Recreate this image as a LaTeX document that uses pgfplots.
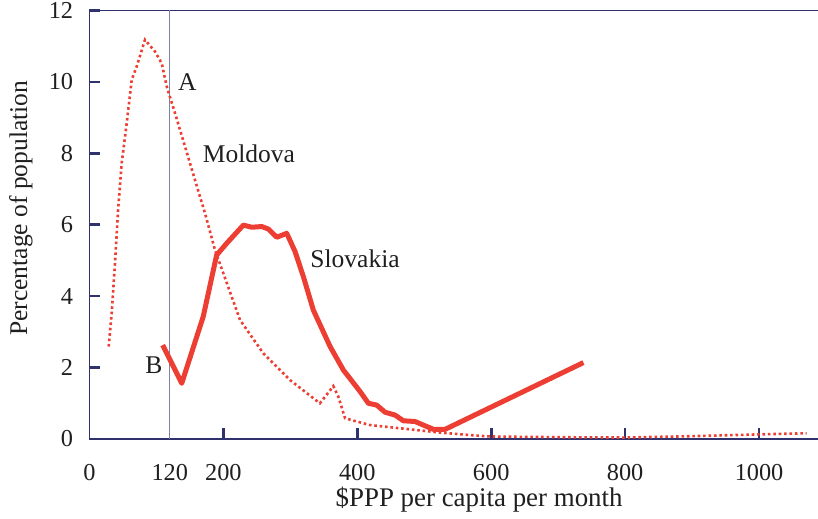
\documentclass[border=0pt]{standalone}
\usepackage{fontspec}
\setmainfont{Liberation Serif}
\usepackage{pgfplots}
\pgfplotsset{compat=1.18}
\definecolor{redline}{RGB}{236,62,50}
\definecolor{navy}{RGB}{48,50,110}
\definecolor{vline}{RGB}{125,130,172}
\begin{document}
\fontsize{12.8}{15}\selectfont
\begin{tikzpicture}
\useasboundingbox (0,0) rectangle (409bp,259.5bp);
\begin{axis}[
 at={(44.7bp,40bp)}, anchor=south west,
 width=364.3bp, height=214.25bp, scale only axis,
 xmin=0, xmax=1088, ymin=0, ymax=12,
 axis lines*=left,
 axis line style={navy, line width=0.9bp},
 tick align=inside,
 major tick length=5.5bp,
 tick style={navy, line width=1.3bp},
 xtick={200,400,600,800,1000},
 extra x ticks={0,120},
 extra x tick style={major tick length=0pt},
 ytick={0,2,4,6,8,10,12},
 /pgf/number format/assume math mode=true,
 /pgf/number format/1000 sep={},
 xticklabel style={yshift=-8bp},
 yticklabel style={xshift=-3.7bp},
 ticklabel style={font=\fontsize{12.2}{14}\selectfont, text=black!88},
 clip=false,
]
\draw[navy, line width=0.9bp] (rel axis cs:0,1) -- (rel axis cs:1,1);
\addplot[vline, line width=0.7bp] coordinates {(120,0) (120,12)};
% Moldova
\addplot[redline, line width=1.3bp, dash pattern=on 1.3bp off 1.4bp] coordinates {
(28.8,2.59) (33.3,3.52) (38.2,4.92) (43.2,6.51) (48.2,7.72) (55.7,8.84)
(63.2,10.06) (70.6,10.43) (83,11.18) (98,10.85) (108,10.52) (115.5,9.87)
(127.9,9.12) (142.8,8.19) (157.7,7.25) (172.7,6.32) (187.6,5.29)
(225,3.33) (259.7,2.4) (299.6,1.65) (344.2,1.0) (364.3,1.48) (371.8,1.18)
(381.8,0.58) (419,0.39) (464,0.3) (523.5,0.18) (568.4,0.11) (598,0.07)
(703,0.05) (797,0.04) (902,0.08) (1002,0.13) (1071,0.16)
};
% Slovakia
\addplot[redline, line width=2.5bp, line join=round] coordinates {
(109.4,2.63) (137.9,1.56) (170,3.43) (190,5.15) (205,5.48) (229.9,5.99)
(242.4,5.93) (257.4,5.95) (267.2,5.88) (279.8,5.65) (294.7,5.76) (307.1,5.25)
(319.5,4.55) (334.4,3.61) (359.4,2.59) (379.3,1.93) (404.2,1.33) (416.6,1.0)
(429,0.95) (441.5,0.75) (456.5,0.67) (468.9,0.51) (486.3,0.49) (513.7,0.27)
(531.1,0.27) (737.7,2.14)
};
\node[anchor=west, inner sep=0, text=black!88] at (axis cs:131.9,9.99) {A};
\node[anchor=center, inner sep=0, text=black!88] at (axis cs:96.2,2.06) {B};
\node[anchor=west, inner sep=0, text=black!88] at (axis cs:169,8.0) {Moldova};
\node[anchor=west, inner sep=0, text=black!88] at (axis cs:329.5,5.04) {Slovakia};
\node[anchor=base, inner sep=0, text=black!88, font=\fontsize{13.5}{16}\selectfont] at (axis cs:582,-1.9) {\$PPP per capita per month};
\node[rotate=90, anchor=center, inner sep=0, text=black!88] at (axis cs:-102.2,6.46) {Percentage of population};
\end{axis}
\end{tikzpicture}
\end{document}
